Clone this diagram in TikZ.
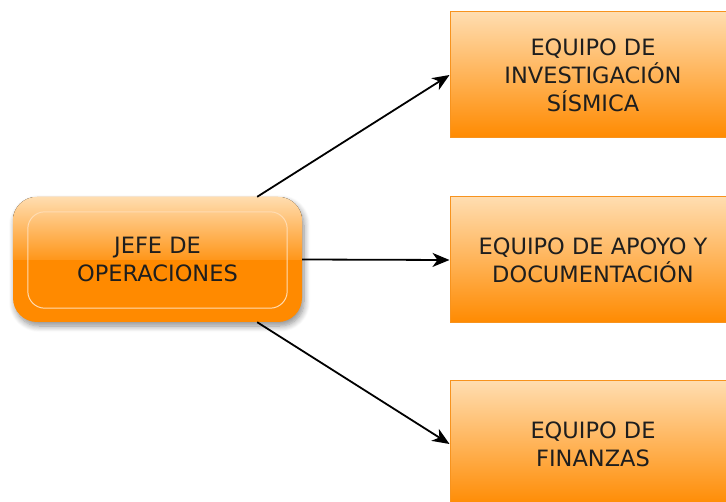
\documentclass[tikz,border=0pt]{standalone}
\usepackage{fontspec}
\setmainfont{DejaVu Sans}
\usetikzlibrary{arrows.meta,shadows.blur}

\definecolor{naranja}{HTML}{FF8A00}
\definecolor{naranjaclaro}{HTML}{FFDDB0}
\definecolor{borde}{HTML}{F7931E}
\definecolor{texto}{HTML}{1E1E1E}

\tikzset{
  rotulo/.style={align=center, text=texto, font=\fontsize{22.5}{28}\selectfont},
  equipo/.style={rotulo, draw=borde, line width=1pt, top color=naranjaclaro, bottom color=naranja,
    minimum width=286pt, minimum height=126pt},
  flecha/.style={line width=1.8pt, -{Stealth[length=17pt,width=14pt,inset=5pt]}}
}

\begin{document}
\begin{tikzpicture}[x=1pt,y=-1pt]
	\useasboundingbox (0,0) rectangle (726,502);
	% jefe
	\node[fill=naranja, rounded corners=24pt, minimum width=289pt, minimum height=125pt,
	  blur shadow={shadow xshift=2pt, shadow yshift=-4pt, shadow blur steps=8, shadow blur radius=6pt, shadow opacity=45}] (jefe) at (157.5,259.5) {};
	\begin{scope}
		\clip[rounded corners=24pt] (jefe.north west) rectangle (jefe.south east);
		\fill[top color=naranjaclaro, bottom color=naranja!85!naranjaclaro] (jefe.north west) rectangle (jefe.east);
	\end{scope}
	\draw[white!70!naranja, line width=1pt, rounded corners=17pt]
	  ([shift={(15,15)}]jefe.north west) rectangle ([shift={(-15,-14)}]jefe.south east);
	\node[rotulo] (jefetxt) at (jefe) {JEFE DE\\OPERACIONES};
	% equipos
	\node[equipo] (sismica) at (593,75) {EQUIPO DE\\INVESTIGACIÓN\\SÍSMICA};
	\node[equipo] (apoyo) at (593,260) {EQUIPO DE APOYO Y\\DOCUMENTACIÓN};
	\node[equipo] (finanzas) at (593,444) {EQUIPO DE\\FINANZAS};
	% flechas
	\draw[flecha] ([xshift=-45pt]jefe.north east) -- (sismica.west);
	\draw[flecha] (jefe.east) -- (apoyo.west);
	\draw[flecha] ([xshift=-45pt]jefe.south east) -- (finanzas.west);
\end{tikzpicture}
\end{document}
